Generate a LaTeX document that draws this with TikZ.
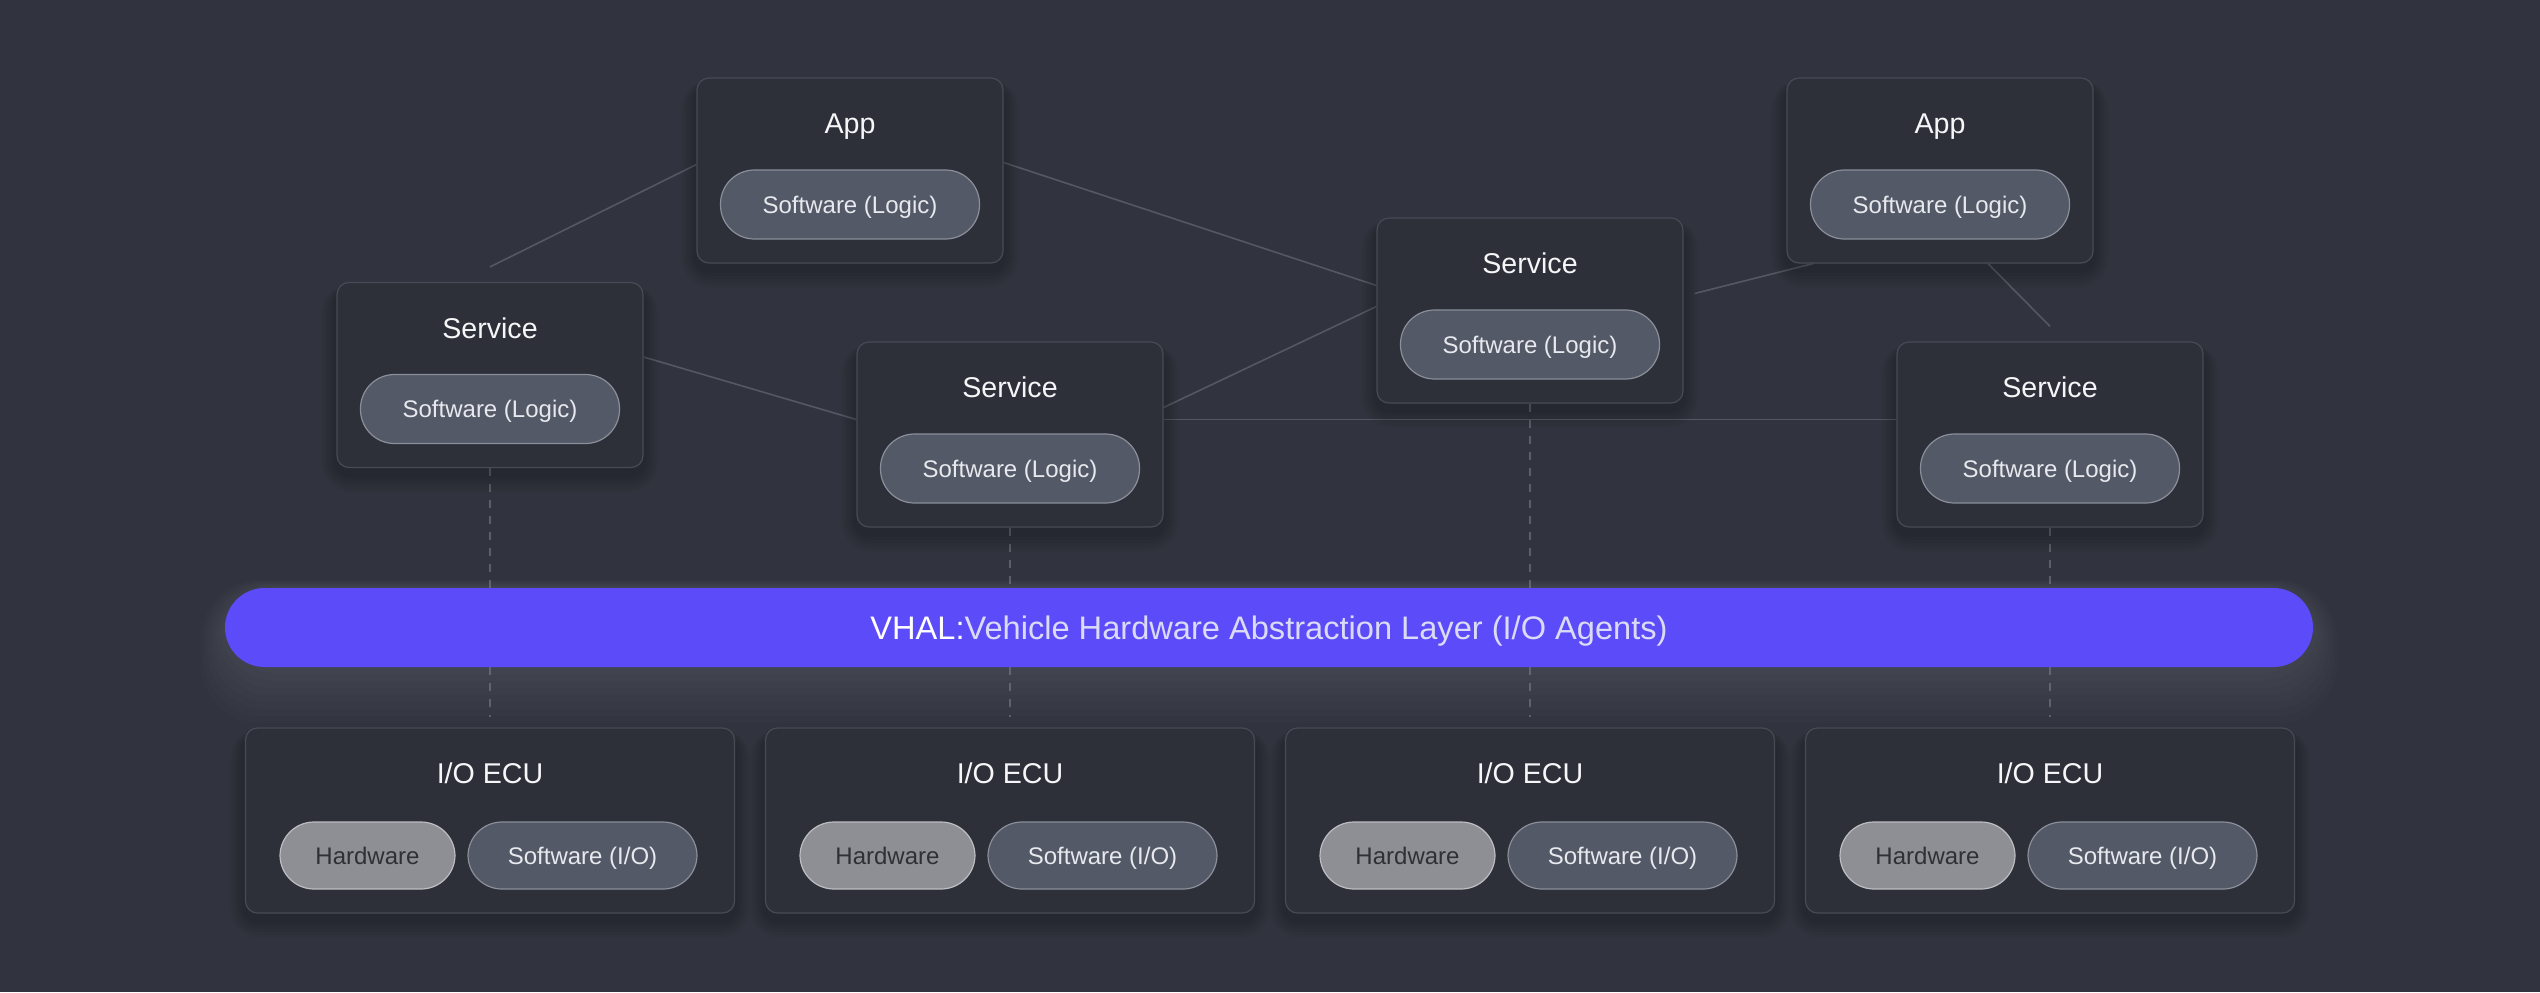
\documentclass[tikz,border=0pt]{standalone}
\usepackage{fontspec}
\setmainfont{Liberation Sans}
\usetikzlibrary{calc}
\definecolor{bg}{HTML}{31343E}
\definecolor{cardfill}{HTML}{2D3039}
\definecolor{cardline}{HTML}{474B55}
\definecolor{pillfill}{HTML}{535966}
\definecolor{pillline}{HTML}{8A8F9A}
\definecolor{pilltext}{HTML}{E8E9EE}
\definecolor{hwfill}{HTML}{8E8F94}
\definecolor{hwline}{HTML}{BDBEC2}
\definecolor{hwtext}{HTML}{2E3036}
\definecolor{titletext}{HTML}{F6F6F9}
\definecolor{linkcol}{HTML}{545865}
\definecolor{dashcol}{HTML}{5A5F6A}
\definecolor{vhalcol}{HTML}{5B4BF9}
\definecolor{vhaltext}{HTML}{DCDBF7}
\pgfdeclarelayer{back}
\pgfdeclarelayer{shade}
\pgfsetlayers{back,shade,main}
\tikzset{
  card/.style={draw=cardline, fill=cardfill, rounded corners=6pt, line width=0.6pt,
    minimum width=153pt, minimum height=92.5pt, inner sep=0pt},
  ecucard/.style={card, minimum width=244.5pt},
  ttl/.style={text=titletext, font=\fontsize{14.3}{16}\selectfont, text height=10.2pt, text depth=0pt, inner sep=0pt},
  pill/.style={draw=pillline, fill=pillfill, rounded corners=17pt, line width=0.6pt,
    minimum width=129.5pt, minimum height=34.5pt, text=pilltext,
    font=\fontsize{12}{14}\selectfont, text height=8.6pt, text depth=0pt, inner sep=0pt},
  swpill/.style={pill, minimum width=114.5pt, minimum height=33.5pt},
  hwpill/.style={pill, minimum width=87.5pt, minimum height=33.5pt, draw=hwline, fill=hwfill, text=hwtext},
  linkline/.style={draw=linkcol, line width=0.8pt},
  dashline/.style={draw=dashcol, line width=0.75pt, dash pattern=on 4pt off 4pt},
  bar/.style={fill=vhalcol, rounded corners=19.75pt, minimum width=1044pt, minimum height=39.5pt,
    inner sep=0pt, text=vhaltext, font=\fontsize{16.3}{18}\selectfont, text height=11.6pt, text depth=0pt},
  softshade/.style={fill=black, opacity=0.035}
}
\begin{document}
\begin{tikzpicture}[x=0.5pt, y=-0.5pt]
\useasboundingbox (0,0) rectangle (2540,992);
\begin{pgfonlayer}{back}
\fill[bg] (0,0) rectangle (2540,992);
\end{pgfonlayer}

% upper cards
\node[card] (app1) at (850,170.5) {};
\node[ttl] (t-app1) at ($(app1.center)+(0,-47)$) {App};
\node[pill] (p-app1) at ($(app1.center)+(0,34)$) {Software (Logic)};

\node[card] (svc1) at (490,375) {};
\node[ttl] (t-svc1) at ($(svc1.center)+(0,-47)$) {Service};
\node[pill] (p-svc1) at ($(svc1.center)+(0,34)$) {Software (Logic)};

\node[card] (svc2) at (1010,434.5) {};
\node[ttl] (t-svc2) at ($(svc2.center)+(0,-47)$) {Service};
\node[pill] (p-svc2) at ($(svc2.center)+(0,34)$) {Software (Logic)};

\node[card] (svc3) at (1530,310.5) {};
\node[ttl] (t-svc3) at ($(svc3.center)+(0,-47)$) {Service};
\node[pill] (p-svc3) at ($(svc3.center)+(0,34)$) {Software (Logic)};

\node[card] (app2) at (1940,170.5) {};
\node[ttl] (t-app2) at ($(app2.center)+(0,-47)$) {App};
\node[pill] (p-app2) at ($(app2.center)+(0,34)$) {Software (Logic)};

\node[card] (svc4) at (2050,434.5) {};
\node[ttl] (t-svc4) at ($(svc4.center)+(0,-47)$) {Service};
\node[pill] (p-svc4) at ($(svc4.center)+(0,34)$) {Software (Logic)};

% VHAL bar
\node[bar] (vhal) at (1269,627.5) {{\color{white}VHAL:}Vehicle Hardware Abstraction Layer (I/O Agents)};

% ECU cards
\foreach \i/\x in {1/490,2/1010,3/1530,4/2050}{
  \node[ecucard] (ecu\i) at (\x,820.5) {};
  \node[ttl] (t-ecu\i) at ($(ecu\i.center)+(0,-47)$) {I/O ECU};
  \node[hwpill] (hw\i) at ($(ecu\i.center)+(-122.5,35)$) {Hardware};
  \node[swpill] (sw\i) at ($(ecu\i.center)+(92.5,35)$) {Software (I/O)};
}

% soft shadows and glow
\begin{pgfonlayer}{shade}
\foreach \n in {app1,app2,svc1,svc2,svc3,svc4,ecu1,ecu2,ecu3,ecu4}{
  \foreach \k in {1,...,6}{
    \fill[softshade, rounded corners=6pt+\k*1.5pt]
      ($(\n.north west)+(-\k*2.5,8-\k)$) rectangle ($(\n.south east)+(\k*2.5,6+\k*3)$);
  }
}
\foreach \g in {1,...,8}{
  \fill[white, opacity=0.011, rounded corners=30pt]
    ($(vhal.north west)+(-\g*3,-\g*1)$) rectangle ($(vhal.south east)+(\g*3,\g*7)$);
}
\end{pgfonlayer}

\begin{pgfonlayer}{back}
% logical links
\draw[linkline] ($(svc1.north)+(0,-15)$) -- ($(app1.west)+(0,-6)$);
\draw[linkline] ($(app1.east)+(0,-8)$) -- ($(svc3.west)+(0,-25)$);
\draw[linkline] ($(svc1.east)+(0,-18)$) -- ($(svc2.west)+(0,-15)$);
\draw[linkline] ($(svc2.east)+(0,-27)$) -- ($(svc3.west)+(0,-4)$);
\draw[linkline] ($(svc2.east)+(0,-15)$) -- ($(svc4.west)+(0,-15)$);
\draw[linkline] ($(svc3.east)+(11,-17)$) -- ($(app2.south)+(-127,0)$);
\draw[linkline] ($(app2.south)+(48,0)$) -- ($(svc4.north)+(0,-15)$);
% vertical dashed links
\foreach \s/\e in {svc1/ecu1,svc2/ecu2,svc3/ecu3,svc4/ecu4}{
  \draw[dashline] (\s.south) -- (\s.south |- vhal.north);
  \draw[dashline] (\e.north |- vhal.south) -- ($(\e.north)+(0,-10)$);
}
\end{pgfonlayer}
\end{tikzpicture}
\end{document}
